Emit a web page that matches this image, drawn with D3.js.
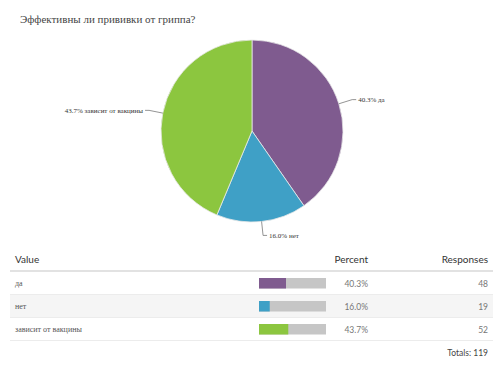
<!DOCTYPE html>
<html>
<head>
<meta charset="utf-8">
<script src="https://cdn.jsdelivr.net/npm/d3@7"></script>
<style>
  body { margin: 0; background: #fff; }
  svg { display: block; }
</style>
</head>
<body>
<div id="chart"></div>
<script>
var answers = ["да", "нет", "зависит от вакцины"];
var responses = [48, 19, 52];
var percents = [40.3, 16.0, 43.7];
var colors = ["#7f5b8f", "#3fa0c6", "#8cc63f"];
var title = "Эффективны ли прививки от гриппа?";

var width = 500, height = 375;

var svg = d3.select("#chart").append("svg")
    .attr("width", width)
    .attr("height", height);

svg.append("text")
    .attr("x", 20)
    .attr("y", 23)
    .attr("font-family", "Liberation Serif, serif")
    .attr("font-size", 11)
    .attr("fill", "#444")
    .text(title);

// pie
var cx = 252, cy = 131, radius = 91;
var pieGroup = svg.append("g").attr("transform", `translate(${cx}, ${cy})`);

var pie = d3.pie().sort(null).value(d => d);
var arcs = pie(responses);
var arc = d3.arc().innerRadius(0).outerRadius(radius);

pieGroup.selectAll("path.slice")
    .data(arcs)
    .enter().append("path")
    .attr("class", "slice")
    .attr("d", arc)
    .attr("fill", (d, i) => colors[i])
    .attr("stroke", "#e8e8e8")
    .attr("stroke-width", 0.8);

function edgePoint(d, r) {
    var a = (d.startAngle + d.endAngle) / 2;
    return [r * Math.sin(a), -r * Math.cos(a)];
}

var labels = pieGroup.selectAll("g.lab")
    .data(arcs)
    .enter().append("g")
    .attr("class", "lab");

labels.append("polyline")
    .attr("fill", "none")
    .attr("stroke", "#666")
    .attr("stroke-width", 0.7)
    .attr("points", function(d) {
        var p0 = edgePoint(d, radius);
        var p1 = edgePoint(d, radius + 14);
        var right = p1[0] >= 0;
        var p2 = [p1[0] + (right ? 4 : -4), p1[1]];
        return [p0, p1, p2].map(p => p.join(",")).join(" ");
    });

labels.append("text")
    .attr("x", function(d) {
        var p1 = edgePoint(d, radius + 14);
        return p1[0] >= 0 ? p1[0] + 6 : p1[0] - 6;
    })
    .attr("y", d => edgePoint(d, radius + 14)[1] + 2.5)
    .attr("text-anchor", d => edgePoint(d, radius + 14)[0] >= 0 ? "start" : "end")
    .attr("font-family", "Liberation Serif, serif")
    .attr("font-size", 7)
    .attr("fill", "#333")
    .text((d, i) => percents[i].toFixed(1) + "% " + answers[i]);

// table
var tableLeft = 10, tableRight = 493;
var headerY = 263, rowTop = 272, rowH = 23;
var sans = "Lato, 'Open Sans', sans-serif";

svg.append("text").attr("x", 15).attr("y", headerY)
    .attr("font-family", sans).attr("font-size", 10).attr("fill", "#333")
    .text("Value");
svg.append("text").attr("x", 368).attr("y", headerY).attr("text-anchor", "end")
    .attr("font-family", sans).attr("font-size", 10).attr("fill", "#333")
    .text("Percent");
svg.append("text").attr("x", 488).attr("y", headerY).attr("text-anchor", "end")
    .attr("font-family", sans).attr("font-size", 10).attr("fill", "#333")
    .text("Responses");

svg.append("rect").attr("x", tableLeft).attr("y", 270)
    .attr("width", tableRight - tableLeft).attr("height", 2)
    .attr("fill", "#e2e2e2");

var barScale = d3.scaleLinear().domain([0, 100]).range([0, 67]);

var rows = svg.selectAll("g.row")
    .data(answers)
    .enter().append("g")
    .attr("class", "row")
    .attr("transform", (d, i) => `translate(0, ${rowTop + i * rowH})`);

rows.append("rect")
    .attr("x", tableLeft).attr("y", 0)
    .attr("width", tableRight - tableLeft).attr("height", rowH)
    .attr("fill", (d, i) => i % 2 === 1 ? "#f5f5f5" : "#fff");

rows.append("rect")
    .attr("x", tableLeft).attr("y", rowH - 1)
    .attr("width", tableRight - tableLeft).attr("height", 1)
    .attr("fill", "#ececec");

rows.append("text")
    .attr("x", 15).attr("y", 14)
    .attr("font-family", "Liberation Serif, serif")
    .attr("font-size", 8)
    .attr("fill", "#555")
    .text(d => d);

rows.append("rect")
    .attr("x", 259).attr("y", 6)
    .attr("width", barScale(100)).attr("height", 10.5)
    .attr("fill", "#c6c6c6");

rows.append("rect")
    .attr("x", 259).attr("y", 6)
    .attr("width", (d, i) => barScale(percents[i])).attr("height", 10.5)
    .attr("fill", (d, i) => colors[i]);

rows.append("text")
    .attr("x", 368).attr("y", 14.5).attr("text-anchor", "end")
    .attr("font-family", sans).attr("font-size", 8.5).attr("fill", "#777")
    .text((d, i) => percents[i].toFixed(1) + "%");

rows.append("text")
    .attr("x", 488).attr("y", 14.5).attr("text-anchor", "end")
    .attr("font-family", sans).attr("font-size", 8.5).attr("fill", "#777")
    .text((d, i) => responses[i]);

svg.append("text").attr("x", 488).attr("y", 356).attr("text-anchor", "end")
    .attr("font-family", sans).attr("font-size", 8.5).attr("fill", "#444")
    .text("Totals: " + d3.sum(responses));
</script>
</body>
</html>
